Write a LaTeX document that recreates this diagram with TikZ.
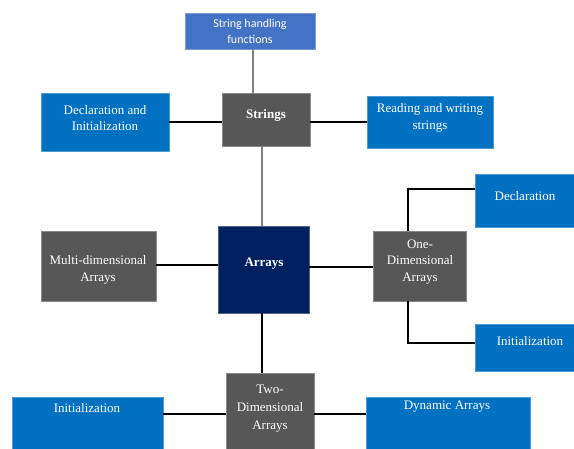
\documentclass[tikz,border=0pt]{standalone}
\usepackage{fontspec}
\setmainfont{Liberation Serif}
\newfontfamily\calfont{Carlito}
\definecolor{boxblue}{HTML}{0070C0}
\definecolor{boxgray}{HTML}{575757}
\definecolor{boxnavy}{HTML}{002060}
\definecolor{boxlight}{HTML}{4472C4}
\definecolor{linkgray}{HTML}{808080}
\begin{document}
\begin{tikzpicture}[x=1pt,y=-1pt,
  panel/.style={anchor=north west,inner sep=0pt,outer sep=0pt,draw=#1!70!white,line width=0.6pt,fill=#1},
  txt/.style={text=white,align=center,font=\fontsize{13}{16.5}\selectfont,inner sep=0pt},
  boldtxt/.style={txt,font=\bfseries\fontsize{13}{16.5}\selectfont},
  link/.style={line width=1.1pt,black},
  greylink/.style={line width=1.1pt,linkgray}]
\useasboundingbox (0,0) rectangle (574,448);
\begin{scope}
\clip (0,0) rectangle (574,448);
% boxes, placed by their north-west corners
\node[panel=boxlight,minimum width=130pt,minimum height=36pt] (shf) at (185,13) {};
\node[panel=boxgray,minimum width=88pt,minimum height=53pt] (str) at (222,93) {};
\node[panel=boxblue,minimum width=128pt,minimum height=58pt] (decinit) at (41,93) {};
\node[panel=boxblue,minimum width=126pt,minimum height=52pt] (rw) at (367,96) {};
\node[panel=boxnavy,minimum width=91pt,minimum height=87pt] (arr) at (218,226) {};
\node[panel=boxgray,minimum width=115pt,minimum height=70pt] (multi) at (41,231) {};
\node[panel=boxgray,minimum width=93pt,minimum height=70pt] (oned) at (373,231) {};
\node[panel=boxblue,minimum width=104pt,minimum height=53pt] (decl) at (475,174) {};
\node[panel=boxblue,minimum width=104pt,minimum height=47pt] (init) at (475,324) {};
\node[panel=boxgray,minimum width=88pt,minimum height=76pt] (twod) at (226,373) {};
\node[panel=boxblue,minimum width=151pt,minimum height=60pt] (init2) at (12,397) {};
\node[panel=boxblue,minimum width=164pt,minimum height=60pt] (dyn) at (366,397) {};
\end{scope}
% texts
\node[txt,font=\calfont\fontsize{12}{16}\selectfont] at (250,31) {String handling\\functions};
\node[boldtxt] at (266,115) {Strings};
\node[txt] at (105,118) {Declaration and\\Initialization};
\node[txt] at (430,118) {Reading and writing\\strings};
\node[boldtxt] at (264,264) {Arrays};
\node[txt] at (98,270) {Multi-dimensional\\Arrays};
\node[txt] at (420,262) {One-\\Dimensional\\Arrays};
\node[txt] at (525,196) {Declaration};
\node[txt] at (530,341) {Initialization};
\node[txt,font=\fontsize{13}{18}\selectfont] at (270,409) {Two-\\Dimensional\\Arrays};
\node[txt] at (87,408) {Initialization};
\node[txt] at (447,407) {Dynamic Arrays};
% connectors
\draw[greylink] (shf.south -| 253,0) -- (str.north -| 253,0);
\draw[greylink] (str.south -| 262,0) -- (arr.north -| 262,0);
\draw[link] (decinit.east |- 0,122) -- (str.west |- 0,122);
\draw[link] (str.east |- 0,122) -- (rw.west |- 0,122);
\draw[link] (multi.east |- 0,265) -- (arr.west |- 0,265);
\draw[link] (arr.east |- 0,267) -- (oned.west |- 0,267);
\draw[link] (oned.north -| 408,0) |- (decl.west |- 0,189);
\draw[link] (oned.south -| 408,0) |- (init.west |- 0,343);
\draw[link] (arr.south -| 262,0) -- (twod.north -| 262,0);
\draw[link] (init2.east |- 0,414) -- (twod.west |- 0,414);
\draw[link] (twod.east |- 0,414) -- (dyn.west |- 0,414);
\end{tikzpicture}
\end{document}
